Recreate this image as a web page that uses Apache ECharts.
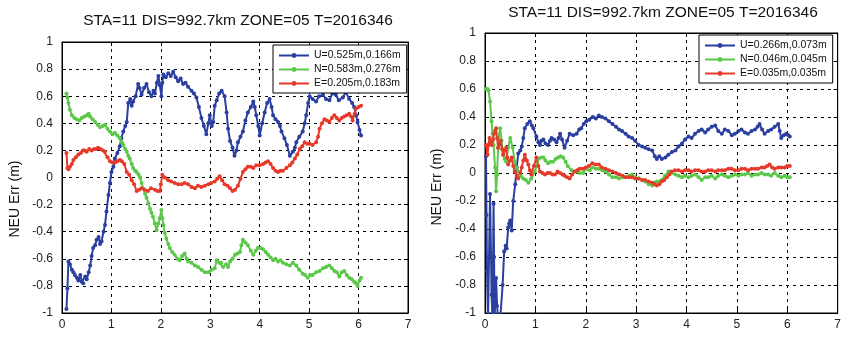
<!DOCTYPE html>
<html>
<head>
<meta charset="utf-8">
<script src="https://cdn.jsdelivr.net/npm/echarts@6/dist/echarts.min.js"></script>
<style>html,body{margin:0;padding:0;background:#fff;}#c{width:844px;height:338px;}</style>
</head>
<body>
<div id="c"></div>
<script>
// ---- data ----
const titleText = 'STA=11 DIS=992.7km ZONE=05 T=2016346';
const yAxisName = 'NEU Err (m)';
const xTicks = [0, 1, 2, 3, 4, 5, 6, 7];
const yTicks = [-1, -0.8, -0.6, -0.4, -0.2, 0, 0.2, 0.4, 0.6, 0.8, 1];
const leftNames = ['U=0.525m,0.166m', 'N=0.583m,0.276m', 'E=0.205m,0.183m'];
const rightNames = ['U=0.266m,0.073m', 'N=0.046m,0.045m', 'E=0.035m,0.035m'];

const leftU = [[0.09,-0.97],[0.11,-0.82],[0.13,-0.62],[0.16,-0.64],[0.2,-0.68],[0.23,-0.7],[0.26,-0.72],[0.3,-0.74],[0.33,-0.76],[0.37,-0.72],[0.4,-0.77],[0.43,-0.78],[0.47,-0.73],[0.5,-0.75],[0.54,-0.7],[0.57,-0.65],[0.6,-0.58],[0.63,-0.52],[0.67,-0.5],[0.7,-0.46],[0.74,-0.44],[0.77,-0.49],[0.8,-0.47],[0.84,-0.4],[0.87,-0.35],[0.9,-0.25],[0.94,-0.13],[0.97,-0.04],[1.0,0.04],[1.04,0.08],[1.07,0.14],[1.12,0.18],[1.17,0.23],[1.2,0.29],[1.24,0.34],[1.28,0.38],[1.31,0.41],[1.34,0.55],[1.38,0.58],[1.41,0.53],[1.44,0.56],[1.49,0.6],[1.54,0.69],[1.57,0.66],[1.61,0.61],[1.66,0.66],[1.71,0.69],[1.76,0.63],[1.81,0.6],[1.85,0.64],[1.88,0.62],[1.92,0.7],[1.95,0.75],[1.98,0.68],[2.01,0.6],[2.03,0.7],[2.05,0.76],[2.1,0.74],[2.15,0.77],[2.2,0.75],[2.25,0.78],[2.3,0.74],[2.35,0.71],[2.4,0.73],[2.45,0.69],[2.5,0.7],[2.55,0.67],[2.62,0.64],[2.67,0.62],[2.72,0.59],[2.77,0.52],[2.82,0.44],[2.87,0.38],[2.92,0.32],[2.96,0.4],[2.99,0.46],[3.03,0.38],[3.06,0.41],[3.09,0.53],[3.13,0.57],[3.18,0.62],[3.23,0.64],[3.29,0.6],[3.33,0.48],[3.36,0.36],[3.4,0.27],[3.45,0.22],[3.49,0.16],[3.53,0.2],[3.56,0.26],[3.61,0.3],[3.66,0.34],[3.71,0.42],[3.76,0.48],[3.82,0.52],[3.87,0.56],[3.9,0.52],[3.93,0.46],[3.97,0.38],[4.0,0.31],[4.05,0.4],[4.1,0.48],[4.15,0.55],[4.2,0.58],[4.24,0.52],[4.27,0.46],[4.32,0.43],[4.37,0.41],[4.41,0.38],[4.44,0.34],[4.5,0.29],[4.55,0.24],[4.61,0.16],[4.67,0.19],[4.71,0.22],[4.74,0.26],[4.8,0.3],[4.87,0.34],[4.91,0.4],[4.94,0.46],[4.98,0.55],[5.01,0.6],[5.07,0.58],[5.14,0.56],[5.2,0.6],[5.28,0.61],[5.34,0.58],[5.41,0.57],[5.47,0.62],[5.54,0.61],[5.6,0.57],[5.68,0.59],[5.74,0.63],[5.81,0.58],[5.87,0.55],[5.91,0.52],[5.95,0.46],[5.98,0.41],[6.02,0.35],[6.05,0.31]];
const leftN = [[0.09,0.62],[0.11,0.59],[0.13,0.55],[0.16,0.5],[0.2,0.46],[0.25,0.44],[0.3,0.43],[0.35,0.42],[0.4,0.44],[0.45,0.45],[0.5,0.46],[0.54,0.47],[0.57,0.45],[0.62,0.43],[0.67,0.41],[0.72,0.39],[0.77,0.37],[0.82,0.38],[0.87,0.39],[0.92,0.36],[0.97,0.34],[1.02,0.32],[1.07,0.33],[1.12,0.31],[1.17,0.29],[1.21,0.26],[1.24,0.24],[1.28,0.21],[1.31,0.19],[1.34,0.16],[1.37,0.14],[1.41,0.1],[1.44,0.07],[1.48,0.05],[1.51,0.04],[1.55,0.02],[1.58,0.0],[1.61,-0.04],[1.64,-0.08],[1.68,-0.12],[1.71,-0.15],[1.75,-0.19],[1.78,-0.23],[1.81,-0.26],[1.84,-0.29],[1.88,-0.34],[1.91,-0.39],[1.95,-0.34],[1.98,-0.3],[2.01,-0.24],[2.03,-0.3],[2.05,-0.35],[2.08,-0.41],[2.11,-0.45],[2.15,-0.49],[2.18,-0.52],[2.23,-0.55],[2.28,-0.57],[2.33,-0.6],[2.38,-0.61],[2.43,-0.58],[2.48,-0.56],[2.52,-0.6],[2.55,-0.62],[2.62,-0.63],[2.69,-0.65],[2.75,-0.66],[2.82,-0.68],[2.89,-0.7],[2.96,-0.7],[3.03,-0.68],[3.09,-0.67],[3.13,-0.61],[3.18,-0.63],[3.22,-0.63],[3.26,-0.66],[3.32,-0.64],[3.36,-0.66],[3.4,-0.62],[3.45,-0.6],[3.5,-0.57],[3.55,-0.56],[3.6,-0.55],[3.63,-0.5],[3.66,-0.46],[3.71,-0.48],[3.76,-0.5],[3.82,-0.54],[3.87,-0.57],[3.92,-0.54],[3.96,-0.52],[4.02,-0.52],[4.07,-0.53],[4.12,-0.55],[4.17,-0.57],[4.22,-0.59],[4.27,-0.61],[4.32,-0.6],[4.37,-0.62],[4.42,-0.61],[4.47,-0.63],[4.54,-0.64],[4.61,-0.65],[4.67,-0.63],[4.74,-0.65],[4.8,-0.68],[4.87,-0.71],[4.92,-0.72],[4.97,-0.74],[5.02,-0.72],[5.07,-0.72],[5.14,-0.7],[5.21,-0.69],[5.28,-0.67],[5.34,-0.66],[5.41,-0.65],[5.46,-0.67],[5.51,-0.69],[5.56,-0.7],[5.61,-0.73],[5.66,-0.7],[5.71,-0.69],[5.76,-0.72],[5.81,-0.74],[5.86,-0.75],[5.91,-0.77],[5.95,-0.78],[5.98,-0.8],[6.02,-0.76],[6.05,-0.74]];
const leftE = [[0.09,0.18],[0.11,0.07],[0.13,0.06],[0.16,0.08],[0.2,0.1],[0.23,0.13],[0.28,0.15],[0.33,0.17],[0.38,0.18],[0.42,0.2],[0.46,0.2],[0.5,0.19],[0.55,0.21],[0.6,0.2],[0.65,0.21],[0.7,0.21],[0.73,0.22],[0.78,0.21],[0.83,0.2],[0.87,0.19],[0.92,0.15],[0.97,0.12],[1.02,0.11],[1.07,0.11],[1.12,0.12],[1.17,0.13],[1.21,0.12],[1.26,0.1],[1.31,0.04],[1.36,0.02],[1.41,-0.02],[1.46,-0.05],[1.51,-0.1],[1.56,-0.09],[1.61,-0.08],[1.67,-0.09],[1.74,-0.1],[1.8,-0.08],[1.88,-0.09],[1.93,-0.1],[1.98,-0.1],[2.0,-0.05],[2.03,0.02],[2.08,0.0],[2.15,-0.02],[2.21,-0.03],[2.28,-0.04],[2.35,-0.05],[2.42,-0.05],[2.48,-0.04],[2.55,-0.05],[2.62,-0.07],[2.69,-0.08],[2.75,-0.06],[2.82,-0.07],[2.89,-0.06],[2.96,-0.05],[3.02,-0.04],[3.09,-0.03],[3.14,-0.01],[3.19,0.01],[3.24,-0.02],[3.29,-0.05],[3.35,-0.06],[3.4,-0.08],[3.45,-0.1],[3.5,-0.09],[3.56,-0.06],[3.61,-0.01],[3.66,0.04],[3.71,0.06],[3.76,0.08],[3.82,0.08],[3.87,0.07],[3.93,0.09],[4.0,0.09],[4.07,0.1],[4.12,0.11],[4.17,0.12],[4.22,0.1],[4.27,0.07],[4.32,0.05],[4.37,0.04],[4.42,0.05],[4.47,0.05],[4.54,0.07],[4.61,0.09],[4.66,0.11],[4.71,0.14],[4.76,0.17],[4.81,0.21],[4.86,0.23],[4.91,0.26],[4.96,0.25],[5.01,0.25],[5.07,0.24],[5.14,0.26],[5.18,0.3],[5.21,0.36],[5.26,0.4],[5.31,0.43],[5.36,0.42],[5.41,0.41],[5.46,0.44],[5.51,0.46],[5.56,0.44],[5.61,0.42],[5.66,0.44],[5.71,0.45],[5.76,0.46],[5.81,0.47],[5.85,0.45],[5.88,0.42],[5.92,0.47],[5.95,0.51],[6.0,0.52],[6.05,0.53]];

const rightU = [[0.02,0.12],[0.03,-0.3],[0.04,-0.7],[0.06,-1.05],[0.08,-0.6],[0.1,-0.15],[0.12,-0.6],[0.13,-0.87],[0.15,-1.05],[0.17,-0.22],[0.18,-0.6],[0.19,-1.05],[0.22,-0.75],[0.24,-0.95],[0.26,-1.05],[0.3,-1.05],[0.33,-1.05],[0.35,-0.8],[0.38,-0.56],[0.41,-0.52],[0.43,-0.54],[0.46,-0.39],[0.48,-0.36],[0.5,-0.34],[0.53,-0.41],[0.56,-0.2],[0.6,-0.08],[0.63,0.04],[0.66,0.14],[0.7,0.16],[0.73,0.19],[0.76,0.25],[0.79,0.32],[0.84,0.35],[0.89,0.37],[0.93,0.34],[0.96,0.32],[1.02,0.26],[1.06,0.22],[1.09,0.2],[1.12,0.23],[1.16,0.24],[1.2,0.21],[1.25,0.2],[1.29,0.23],[1.32,0.25],[1.37,0.24],[1.42,0.22],[1.46,0.25],[1.49,0.28],[1.53,0.24],[1.58,0.18],[1.63,0.23],[1.68,0.28],[1.75,0.27],[1.82,0.28],[1.87,0.31],[1.91,0.32],[1.96,0.35],[2.01,0.37],[2.07,0.38],[2.14,0.4],[2.2,0.39],[2.26,0.41],[2.32,0.4],[2.39,0.39],[2.46,0.37],[2.53,0.35],[2.6,0.33],[2.66,0.31],[2.72,0.3],[2.79,0.28],[2.85,0.26],[2.92,0.25],[2.98,0.23],[3.05,0.2],[3.12,0.19],[3.18,0.18],[3.25,0.17],[3.32,0.16],[3.37,0.12],[3.41,0.1],[3.46,0.12],[3.51,0.1],[3.58,0.11],[3.64,0.13],[3.71,0.15],[3.78,0.16],[3.84,0.19],[3.91,0.21],[3.97,0.24],[4.04,0.26],[4.1,0.25],[4.17,0.28],[4.24,0.3],[4.3,0.31],[4.37,0.29],[4.43,0.31],[4.5,0.33],[4.57,0.34],[4.63,0.3],[4.7,0.28],[4.76,0.31],[4.83,0.3],[4.9,0.27],[4.96,0.28],[5.03,0.3],[5.09,0.31],[5.16,0.29],[5.22,0.28],[5.29,0.3],[5.36,0.31],[5.41,0.33],[5.45,0.35],[5.5,0.31],[5.55,0.28],[5.62,0.3],[5.68,0.31],[5.75,0.33],[5.82,0.35],[5.85,0.3],[5.88,0.25],[5.93,0.27],[5.98,0.28],[6.02,0.27],[6.05,0.26]];
const rightN = [[0.02,0.6],[0.05,0.6],[0.07,0.59],[0.1,0.51],[0.13,0.37],[0.15,0.28],[0.17,0.2],[0.2,0.04],[0.22,-0.13],[0.24,-0.01],[0.26,0.18],[0.28,0.27],[0.3,0.32],[0.33,0.23],[0.36,0.13],[0.39,0.1],[0.42,0.08],[0.46,0.18],[0.5,0.25],[0.55,0.18],[0.59,0.08],[0.62,0.04],[0.66,0.01],[0.71,-0.02],[0.76,-0.04],[0.81,-0.05],[0.86,-0.07],[0.92,-0.04],[0.99,0.01],[1.03,0.06],[1.06,0.1],[1.11,0.11],[1.16,0.11],[1.2,0.09],[1.25,0.07],[1.3,0.08],[1.35,0.08],[1.4,0.1],[1.45,0.11],[1.5,0.12],[1.55,0.11],[1.6,0.08],[1.64,0.05],[1.72,0.02],[1.82,0.01],[1.88,0.0],[1.95,0.0],[2.0,0.03],[2.08,0.02],[2.13,0.04],[2.2,0.03],[2.26,0.03],[2.33,0.02],[2.39,0.01],[2.46,-0.01],[2.53,-0.03],[2.6,-0.03],[2.66,-0.04],[2.73,-0.03],[2.79,-0.03],[2.86,-0.02],[2.92,-0.01],[2.98,-0.03],[3.05,-0.04],[3.12,-0.05],[3.18,-0.06],[3.25,-0.08],[3.32,-0.09],[3.37,-0.07],[3.41,-0.06],[3.46,-0.06],[3.51,-0.05],[3.57,-0.02],[3.64,0.01],[3.71,0.0],[3.78,-0.01],[3.84,-0.02],[3.91,-0.03],[3.97,-0.02],[4.04,-0.03],[4.1,-0.02],[4.17,-0.01],[4.24,-0.03],[4.3,-0.05],[4.37,-0.03],[4.43,-0.03],[4.5,-0.02],[4.57,-0.04],[4.63,-0.02],[4.7,-0.01],[4.76,-0.02],[4.83,-0.03],[4.9,-0.02],[4.96,-0.01],[5.03,-0.02],[5.09,-0.01],[5.16,-0.01],[5.22,0.0],[5.29,-0.02],[5.36,-0.01],[5.42,-0.01],[5.49,0.0],[5.55,-0.01],[5.62,-0.01],[5.68,-0.02],[5.75,0.0],[5.82,-0.02],[5.88,-0.03],[5.95,-0.02],[6.0,-0.03],[6.05,-0.03]];
const rightE = [[0.02,0.2],[0.05,0.13],[0.07,0.2],[0.09,0.25],[0.11,0.22],[0.13,0.2],[0.16,0.24],[0.18,0.28],[0.2,0.3],[0.22,0.32],[0.24,0.25],[0.26,0.18],[0.29,0.21],[0.31,0.23],[0.34,0.17],[0.36,0.13],[0.39,0.16],[0.42,0.18],[0.44,0.11],[0.46,0.06],[0.5,0.09],[0.53,0.11],[0.56,0.05],[0.59,0.01],[0.63,-0.02],[0.66,-0.04],[0.7,0.0],[0.73,0.04],[0.76,0.09],[0.79,0.13],[0.83,0.09],[0.86,0.06],[0.89,0.02],[0.92,-0.01],[0.97,0.05],[1.02,0.11],[1.06,0.05],[1.09,0.01],[1.14,0.0],[1.19,-0.01],[1.24,0.0],[1.29,0.0],[1.34,-0.01],[1.39,-0.01],[1.44,0.01],[1.49,0.0],[1.54,-0.01],[1.58,-0.02],[1.63,-0.03],[1.68,-0.04],[1.73,-0.01],[1.78,0.01],[1.83,0.02],[1.88,0.03],[1.94,0.03],[2.0,0.04],[2.06,0.05],[2.13,0.07],[2.19,0.06],[2.26,0.06],[2.32,0.04],[2.39,0.03],[2.46,0.02],[2.53,0.01],[2.6,0.0],[2.66,-0.01],[2.73,-0.02],[2.79,-0.03],[2.86,-0.03],[2.92,-0.03],[2.98,-0.04],[3.05,-0.04],[3.12,-0.05],[3.18,-0.05],[3.25,-0.06],[3.32,-0.07],[3.37,-0.08],[3.41,-0.09],[3.46,-0.08],[3.51,-0.06],[3.56,-0.05],[3.61,-0.03],[3.66,-0.01],[3.7,0.01],[3.77,0.02],[3.84,0.02],[3.91,0.01],[3.97,0.02],[4.04,0.02],[4.1,0.01],[4.17,0.02],[4.24,0.02],[4.3,0.01],[4.37,0.01],[4.43,0.02],[4.5,0.02],[4.57,0.01],[4.63,0.02],[4.7,0.02],[4.76,0.02],[4.83,0.03],[4.89,0.03],[4.96,0.02],[5.03,0.02],[5.09,0.03],[5.16,0.03],[5.22,0.02],[5.29,0.03],[5.36,0.03],[5.42,0.03],[5.49,0.04],[5.55,0.04],[5.6,0.05],[5.65,0.06],[5.7,0.04],[5.75,0.03],[5.82,0.04],[5.88,0.04],[5.95,0.04],[6.0,0.05],[6.05,0.05]];

// ---- chart ----
const FONT = 'Arial, "Liberation Sans", sans-serif';
const COLORS = ['#2a3f9f', '#5cc84a', '#e53a2a'];
const chart = echarts.init(document.getElementById('c'), null, {renderer: 'canvas'});

function xAx(gi, pos) {
  return {
    type: 'value', gridIndex: gi, position: pos, min: xTicks[0], max: xTicks[xTicks.length - 1], interval: 1,
    axisLine: {show: true, onZero: false, lineStyle: {color: '#000', width: 1}},
    axisTick: {show: true, inside: true, length: 4, lineStyle: {color: '#000'}},
    axisLabel: {show: pos === 'bottom', color: '#222', fontSize: 12, fontFamily: FONT, margin: 6},
    splitLine: {show: pos === 'bottom', lineStyle: {color: '#000', type: [3, 4], width: 1}}
  };
}
function yAx(gi, pos) {
  return {
    type: 'value', gridIndex: gi, position: pos, min: yTicks[0], max: yTicks[yTicks.length - 1], interval: 0.2,
    axisLine: {show: true, onZero: false, lineStyle: {color: '#000', width: 1}},
    axisTick: {show: true, inside: true, length: 4, lineStyle: {color: '#000'}},
    axisLabel: {show: pos === 'left', color: '#222', fontSize: 12, fontFamily: FONT, margin: 9,
      formatter: v => String(Math.round(v * 10) / 10)},
    splitLine: {show: pos === 'left', lineStyle: {color: '#000', type: [3, 4], width: 1}}
  };
}
function mk(name, data, ci, gi) {
  return {
    name: name, type: 'line', data: data, xAxisIndex: gi * 2, yAxisIndex: gi * 2,
    symbol: 'circle', symbolSize: 4, showSymbol: true, showAllSymbol: true,
    color: COLORS[ci], lineStyle: {width: 2, color: COLORS[ci]}, itemStyle: {color: COLORS[ci]},
    clip: true, animation: false
  };
}
function legend(names, left, top) {
  return {
    data: names, left: left, top: top, orient: 'vertical', backgroundColor: '#fff',
    borderColor: '#000', borderWidth: 1, padding: [5, 6, 4, 5], itemGap: 3,
    itemWidth: 30, itemHeight: 6, textStyle: {fontSize: 10.5, fontFamily: FONT, color: '#111'},
    selectedMode: false
  };
}

const option = {
  backgroundColor: '#fff',
  animation: false,
  title: [
    {text: titleText, left: 238, top: 13, textAlign: 'center', padding: 0,
     textStyle: {fontSize: 15.5, fontWeight: 'normal', color: '#111', fontFamily: FONT}},
    {text: titleText, left: 663, top: 5, textAlign: 'center', padding: 0,
     textStyle: {fontSize: 15.5, fontWeight: 'normal', color: '#111', fontFamily: FONT}}
  ],
  grid: [
    {left: 62, top: 42, width: 346, height: 271, show: true, borderColor: '#000', borderWidth: 1, containLabel: false},
    {left: 485, top: 33, width: 355, height: 280, show: true, borderColor: '#000', borderWidth: 1, containLabel: false}
  ],
  xAxis: [xAx(0, 'bottom'), xAx(0, 'top'), xAx(1, 'bottom'), xAx(1, 'top')],
  yAxis: [yAx(0, 'left'), yAx(0, 'right'), yAx(1, 'left'), yAx(1, 'right')],
  legend: [legend(leftNames, 273, 45), legend(rightNames, 699, 35)],
  graphic: [
    {type: 'text', x: 15, y: 199, rotation: Math.PI / 2,
     style: {text: yAxisName, font: '14px ' + FONT, fill: '#111', textAlign: 'center', textVerticalAlign: 'middle'}},
    {type: 'text', x: 437, y: 187, rotation: Math.PI / 2,
     style: {text: yAxisName, font: '14px ' + FONT, fill: '#111', textAlign: 'center', textVerticalAlign: 'middle'}}
  ],
  series: [
    mk(leftNames[0], leftU, 0, 0), mk(leftNames[1], leftN, 1, 0), mk(leftNames[2], leftE, 2, 0),
    mk(rightNames[0], rightU, 0, 1), mk(rightNames[1], rightN, 1, 1), mk(rightNames[2], rightE, 2, 1)
  ]
};
chart.setOption(option);
</script>
</body>
</html>
